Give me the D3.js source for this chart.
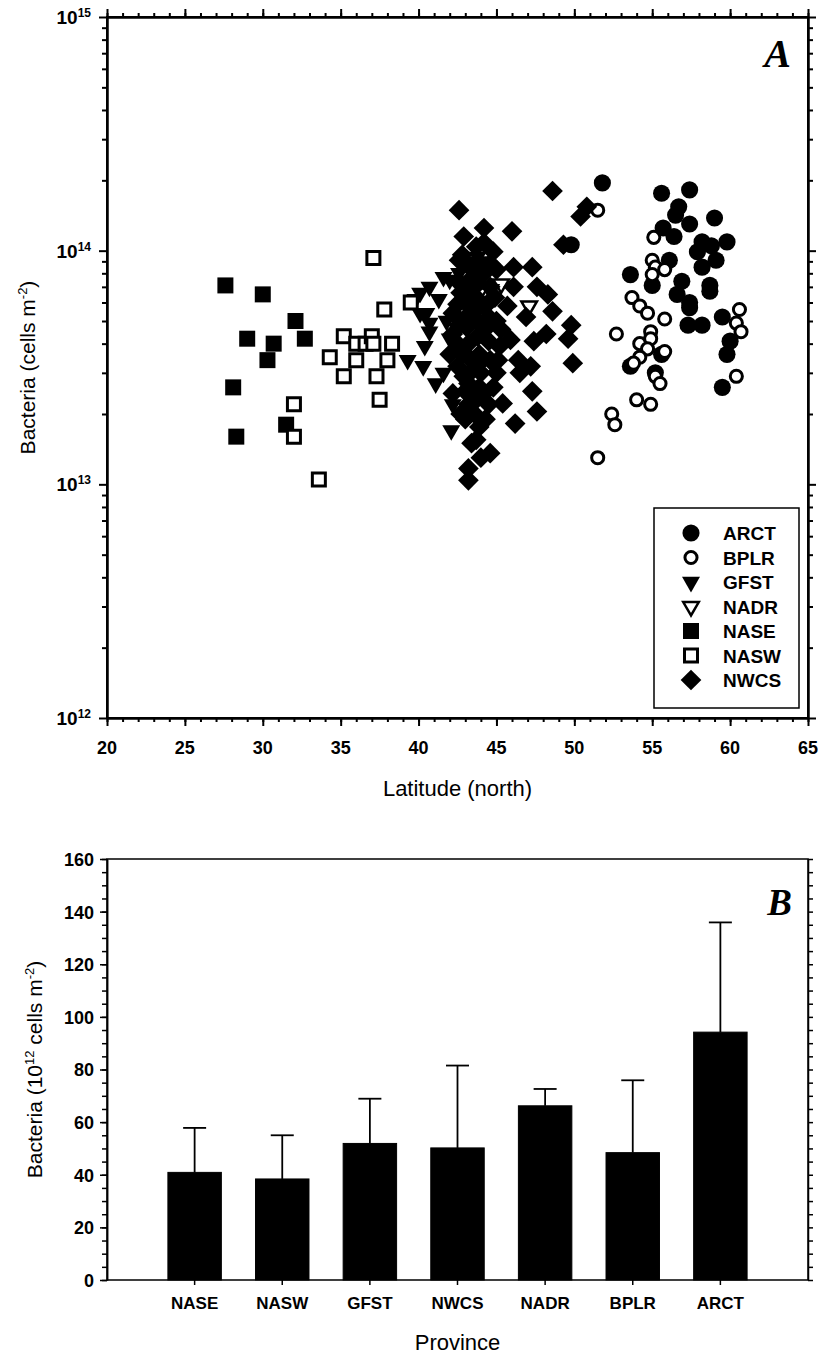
<!DOCTYPE html>
<html>
<head>
<meta charset="utf-8">
<script src="https://cdn.jsdelivr.net/npm/d3@7"></script>
<style>
  body { margin: 0; background: #fff; }
  text { font-family: 'Liberation Sans', Arial, sans-serif; fill: #000; }
</style>
</head>
<body>
<svg id="chart"></svg>
<script>
// panel A: latitude (north) vs bacteria (cells m-2), one list per province
const ARCT = [[51.8,19.5e13],[55.6,17.6e13],[57.4,18.2e13],[56.7,15.4e13],[56.5,14.2e13],[57.4,13.0e13],
  [59.0,13.8e13],[55.7,12.5e13],[56.4,11.5e13],[58.2,10.9e13],[58.8,10.5e13],[59.8,10.9e13],[57.9,9.9e13],
  [59.1,9.1e13],[58.2,8.5e13],[56.1,9.1e13],[53.6,7.9e13],[55.0,7.1e13],[56.9,7.4e13],[56.6,6.5e13],
  [57.4,6.0e13],[57.4,5.7e13],[58.7,7.1e13],[58.7,6.7e13],[57.3,4.8e13],[58.2,4.8e13],[59.5,5.2e13],
  [60.0,4.1e13],[59.8,3.6e13],[59.5,2.6e13],[49.8,10.6e13],[55.6,3.6e13],[53.6,3.2e13],[55.2,3.0e13]];
const BPLR = [[51.5,14.9e13],[55.1,11.4e13],[55.0,9.1e13],[55.2,8.5e13],[55.8,8.3e13],[55.0,7.9e13],
  [53.7,6.3e13],[54.2,5.8e13],[54.7,5.4e13],[55.8,5.1e13],[54.9,4.5e13],[52.7,4.4e13],[54.2,4.0e13],
  [54.9,4.2e13],[54.7,3.8e13],[55.8,3.7e13],[54.2,3.5e13],[53.8,3.3e13],[55.2,2.9e13],[55.5,2.7e13],
  [54.0,2.3e13],[54.9,2.2e13],[52.4,2.0e13],[52.6,1.8e13],[51.5,1.3e13],[60.6,5.6e13],[60.4,4.9e13],
  [60.7,4.5e13],[60.4,2.9e13]];
const GFST = [[39.3,3.4e13],[40.3,3.2e13],[41.1,2.7e13],[40.4,3.9e13],[40.7,4.5e13],[40.1,5.4e13],
  [39.8,6.2e13],[40.5,5.4e13],[40.7,4.9e13],[42.1,1.7e13],[41.6,7.7e13],[40.7,7.0e13],[40.1,6.6e13],
  [42.0,7.5e13],[42.6,8.0e13],[43.2,9.0e13],[43.8,9.4e13],[41.3,6.2e13],[41.8,5.0e13],[42.0,4.2e13],
  [41.6,3.0e13],[42.2,2.2e13],[44.3,5.6e13],[44.0,9.0e13]];
const NADR = [[47.1,5.8e13],[45.3,7.2e13],[44.6,6.8e13],[43.9,6.6e13]];
const NASE = [[27.6,7.1e13],[30.0,6.5e13],[32.1,5.0e13],[29.0,4.2e13],[30.7,4.0e13],[32.7,4.2e13],
  [30.3,3.4e13],[28.1,2.6e13],[31.5,1.8e13],[28.3,1.6e13]];
const NASW = [[37.1,9.3e13],[37.8,5.6e13],[39.5,6.0e13],[35.2,4.3e13],[36.0,4.0e13],[36.6,4.0e13],
  [37.0,4.3e13],[37.1,4.0e13],[38.3,4.0e13],[34.3,3.5e13],[36.0,3.4e13],[38.0,3.4e13],[35.2,2.9e13],
  [37.3,2.9e13],[37.5,2.3e13],[32.0,2.2e13],[32.0,1.6e13],[33.6,1.05e13]];
const NWCS = [[48.6,18.0e13],[42.6,14.9e13],[44.2,12.5e13],[46.0,12.1e13],[42.9,11.5e13],[50.4,14.0e13],
  [50.8,15.4e13],[49.3,10.6e13],[44.8,9.9e13],[42.6,9.1e13],[46.1,8.5e13],[47.3,8.5e13],[47.6,7.0e13],
  [48.3,6.5e13],[48.6,5.5e13],[49.8,4.8e13],[49.6,4.2e13],[49.9,3.3e13],[48.2,4.4e13],[47.4,4.1e13],
  [45.9,4.15e13],[46.4,3.4e13],[47.2,3.2e13],[47.3,2.5e13],[47.6,2.05e13],[46.2,1.82e13],[45.4,2.22e13],
  [44.6,1.36e13],[43.2,1.17e13],[43.2,1.04e13],[43.7,1.55e13],[43.9,1.76e13],[42.7,2.0e13],[42.2,2.45e13],
  [42.0,3.6e13],[42.2,4.4e13],[42.2,5.4e13],[42.7,6.6e13],[43.5,8.3e13],[44.6,7.0e13],[43.7,5.6e13],
  [44.4,4.7e13],[45.2,3.9e13],[43.9,3.6e13],[43.3,3.0e13],[44.2,2.45e13],[45.0,3.0e13],[45.7,5.8e13],
  [46.1,7.0e13],[45.0,8.3e13],[46.9,5.2e13],[43.1,4.7e13],[43.7,10.4e13],[46.5,3.0e13],[43.7,2.3e13],
  [42.9,2.9e13],[43.0,6.0e13],[43.5,6.5e13],[44.0,6.0e13],[43.2,4.0e13],[43.8,4.3e13],[44.5,5.2e13],
  [42.8,3.6e13],[43.4,3.4e13],[44.0,3.0e13],[44.6,3.4e13],[43.0,2.5e13],[43.6,2.0e13],[44.3,1.9e13],
  [42.9,5.0e13],[44.2,8.0e13],[43.3,7.5e13],[44.9,6.3e13],[45.3,4.6e13],[44.8,2.6e13],[43.4,1.5e13],
  [42.5,3.2e13],[42.5,4.0e13],[42.6,4.8e13],[42.5,5.9e13],[42.6,7.3e13],[43.2,2.2e13],[43.2,2.7e13],
  [43.3,5.4e13],[43.2,6.8e13],[43.2,8.6e13],[43.9,2.6e13],[43.9,3.3e13],[43.9,4.9e13],[43.8,7.2e13],
  [43.9,8.6e13],[44.5,2.2e13],[44.5,4.1e13],[44.4,5.9e13],[44.6,8.8e13],[45.1,3.4e13],[45.0,5.0e13],
  [42.8,9.6e13],[44.2,10.8e13],[43.0,1.9e13],[44.0,1.3e13]];

const provinces = ['ARCT', 'BPLR', 'GFST', 'NADR', 'NASE', 'NASW', 'NWCS'];
const scatterData = {ARCT, BPLR, GFST, NADR, NASE, NASW, NWCS};

// panel B: mean and standard deviation (10^12 cells m-2)
const barCategories = ['NASE', 'NASW', 'GFST', 'NWCS', 'NADR', 'BPLR', 'ARCT'];
const barMeans = [40.9, 38.4, 51.9, 50.2, 66.2, 48.4, 94.2];
const barSD = [16.9, 16.6, 17.0, 31.3, 6.4, 27.5, 41.7];

const W = 823, H = 1357;
const svg = d3.select('#chart').attr('width', W).attr('height', H);

const marker = {
  ARCT: {type: d3.symbolCircle, size: 230, fill: '#000', sw: 0, rot: 0},
  BPLR: {type: d3.symbolCircle, size: 115, fill: '#fff', sw: 3, rot: 0},
  GFST: {type: d3.symbolTriangle, size: 140, fill: '#000', sw: 0, rot: 180},
  NADR: {type: d3.symbolTriangle, size: 105, fill: '#fff', sw: 2.5, rot: 180},
  NASE: {type: d3.symbolSquare, size: 256, fill: '#000', sw: 0, rot: 0},
  NASW: {type: d3.symbolSquare, size: 169, fill: '#fff', sw: 3, rot: 0},
  NWCS: {type: d3.symbolSquare, size: 214, fill: '#000', sw: 0, rot: 45}
};

// ---------- panel A ----------
const xA = d3.scaleLinear().domain([20, 65]).range([107, 808]);
const yA = d3.scaleLog().domain([1e12, 1e15]).range([718, 17]);

const majorLat = d3.range(20, 66, 5);
const minorLat = d3.range(20, 66, 1);
const majorLog = [1e12, 1e13, 1e14, 1e15];
const minorLog = [];
[12, 13, 14].forEach(function(k) {
  for (let m = 2; m <= 9; m++) minorLog.push(m * Math.pow(10, k));
});

function styleAxis(g, w) {
  g.selectAll('path, line').attr('stroke', '#000').attr('stroke-width', w);
}

const gA = svg.append('g');

gA.append('rect')
  .attr('x', xA(20)).attr('y', yA(1e15))
  .attr('width', xA(65) - xA(20)).attr('height', yA(1e12) - yA(1e15))
  .attr('fill', 'none').attr('stroke', '#000').attr('stroke-width', 2);

[[d3.axisBottom, yA(1e12)], [d3.axisTop, yA(1e15)]].forEach(function(a) {
  gA.append('g').attr('transform', 'translate(0,' + a[1] + ')')
    .call(a[0](xA).tickValues(minorLat).tickSize(4).tickSizeOuter(0).tickFormat(''))
    .call(styleAxis, 2);
  gA.append('g').attr('transform', 'translate(0,' + a[1] + ')')
    .call(a[0](xA).tickValues(majorLat).tickSize(8).tickSizeOuter(0).tickFormat(''))
    .call(styleAxis, 2);
});
[[d3.axisLeft, xA(20)], [d3.axisRight, xA(65)]].forEach(function(a) {
  gA.append('g').attr('transform', 'translate(' + a[1] + ',0)')
    .call(a[0](yA).tickValues(minorLog).tickSize(5).tickSizeOuter(0).tickFormat(''))
    .call(styleAxis, 2);
  gA.append('g').attr('transform', 'translate(' + a[1] + ',0)')
    .call(a[0](yA).tickValues(majorLog).tickSize(8).tickSizeOuter(0).tickFormat(''))
    .call(styleAxis, 2);
});

gA.selectAll('.xlab').data(majorLat).join('text')
  .attr('class', 'xlab')
  .attr('x', function(d) { return xA(d); })
  .attr('y', yA(1e12) + 36)
  .attr('text-anchor', 'middle')
  .style('font-size', '18px').style('font-weight', 'bold')
  .text(function(d) { return d; });

const ylabA = gA.selectAll('.ylab').data(majorLog).join('text')
  .attr('class', 'ylab')
  .attr('x', xA(20) - 16)
  .attr('y', function(d) { return yA(d) + 7; })
  .attr('text-anchor', 'end')
  .style('font-size', '19px').style('font-weight', 'bold');
ylabA.append('tspan').text('10');
ylabA.append('tspan').attr('dy', -7).style('font-size', '12px')
  .text(function(d) { return Math.round(Math.log10(d)); });

const tA = gA.append('text')
  .attr('transform', 'translate(35,' + ((yA(1e12) + yA(1e15)) / 2) + ') rotate(-90)')
  .attr('text-anchor', 'middle')
  .style('font-size', '21px');
tA.append('tspan').text('Bacteria (cells m');
tA.append('tspan').attr('dy', -8).style('font-size', '13px').text('-2');
tA.append('tspan').attr('dy', 8).text(')');

gA.append('text')
  .attr('x', (xA(20) + xA(65)) / 2).attr('y', 796)
  .attr('text-anchor', 'middle')
  .style('font-size', '22px')
  .text('Latitude (north)');

gA.append('text')
  .attr('x', 791).attr('y', 67)
  .attr('text-anchor', 'end')
  .style('font-family', "'Liberation Serif', 'Times New Roman', serif")
  .style('font-style', 'italic').style('font-weight', 'bold')
  .style('font-size', '40px')
  .text('A');

function symbolPath(p) {
  return d3.symbol().type(marker[p].type).size(marker[p].size)();
}

provinces.forEach(function(p) {
  const m = marker[p];
  gA.append('g').selectAll('path').data(scatterData[p]).join('path')
    .attr('d', symbolPath(p))
    .attr('transform', function(d) {
      return 'translate(' + xA(d[0]) + ',' + yA(d[1]) + ') rotate(' + m.rot + ')';
    })
    .attr('fill', m.fill)
    .attr('stroke', m.sw ? '#000' : 'none')
    .attr('stroke-width', m.sw);
});

// legend
const legend = gA.append('g');
legend.append('rect')
  .attr('x', 654).attr('y', 508).attr('width', 145).attr('height', 200)
  .attr('fill', '#fff').attr('stroke', '#000').attr('stroke-width', 1.5);
const legY = d3.scalePoint().domain(provinces).range([533, 680]);
provinces.forEach(function(p) {
  const m = marker[p];
  legend.append('path')
    .attr('d', symbolPath(p))
    .attr('transform', 'translate(691,' + legY(p) + ') rotate(' + m.rot + ')')
    .attr('fill', m.fill)
    .attr('stroke', m.sw ? '#000' : 'none')
    .attr('stroke-width', m.sw);
  legend.append('text')
    .attr('x', 723).attr('y', legY(p) + 7)
    .style('font-size', '19px').style('font-weight', 'bold')
    .text(p);
});

// ---------- panel B ----------
const xB = d3.scaleBand().domain(barCategories).range([107, 808])
  .paddingInner(0.39).paddingOuter(0.695);
const yB = d3.scaleLinear().domain([0, 160]).range([1280, 859]);

const gB = svg.append('g');

gB.append('rect')
  .attr('x', 107).attr('y', yB(160))
  .attr('width', 808 - 107).attr('height', yB(0) - yB(160))
  .attr('fill', 'none').attr('stroke', '#000').attr('stroke-width', 1.5);

const minorB = d3.range(0, 161, 5);
const majorB = d3.range(0, 161, 20);
gB.append('g').attr('transform', 'translate(107,0)')
  .call(d3.axisLeft(yB).tickValues(minorB).tickSize(5).tickSizeOuter(0).tickFormat(''))
  .call(styleAxis, 1.5);
gB.append('g').attr('transform', 'translate(107,0)')
  .call(d3.axisLeft(yB).tickValues(majorB).tickSize(7).tickSizeOuter(0))
  .call(styleAxis, 1.5)
  .call(function(g) {
    g.selectAll('text').attr('x', -13).attr('dy', '0.36em')
      .style('font-size', '18px').style('font-weight', 'bold')
      .style('font-family', "'Liberation Sans', Arial, sans-serif");
  });
gB.append('g').attr('transform', 'translate(808,0)')
  .call(d3.axisRight(yB).tickValues(minorB).tickSize(5).tickSizeOuter(0).tickFormat(''))
  .call(styleAxis, 1.5);
gB.append('g').attr('transform', 'translate(0,' + yB(0) + ')')
  .call(d3.axisBottom(xB).tickSize(5).tickSizeOuter(0))
  .call(styleAxis, 1.5)
  .call(function(g) {
    g.select('.domain').remove();
    g.selectAll('text').attr('y', 17).attr('dy', '0.71em')
      .style('font-size', '17px').style('font-weight', 'bold')
      .style('font-family', "'Liberation Sans', Arial, sans-serif");
  });

const bars = barCategories.map(function(c, i) {
  return {cat: c, mean: barMeans[i], sd: barSD[i]};
});

gB.selectAll('.bar').data(bars).join('rect')
  .attr('class', 'bar')
  .attr('x', function(d) { return xB(d.cat); })
  .attr('y', function(d) { return yB(d.mean); })
  .attr('width', xB.bandwidth())
  .attr('height', function(d) { return yB(0) - yB(d.mean); })
  .attr('fill', '#000').attr('stroke', '#000').attr('stroke-width', 1);

const capW = 11.5;
const err = gB.selectAll('.err').data(bars).join('g').attr('class', 'err')
  .attr('stroke', '#000').attr('stroke-width', 1.8);
err.append('line')
  .attr('x1', function(d) { return xB(d.cat) + xB.bandwidth() / 2; })
  .attr('x2', function(d) { return xB(d.cat) + xB.bandwidth() / 2; })
  .attr('y1', function(d) { return yB(d.mean); })
  .attr('y2', function(d) { return yB(d.mean + d.sd); });
err.append('line')
  .attr('x1', function(d) { return xB(d.cat) + xB.bandwidth() / 2 - capW; })
  .attr('x2', function(d) { return xB(d.cat) + xB.bandwidth() / 2 + capW; })
  .attr('y1', function(d) { return yB(d.mean + d.sd); })
  .attr('y2', function(d) { return yB(d.mean + d.sd); });

const tB = gB.append('text')
  .attr('transform', 'translate(42,' + ((yB(0) + yB(160)) / 2) + ') rotate(-90)')
  .attr('text-anchor', 'middle')
  .style('font-size', '21px');
tB.append('tspan').text('Bacteria (10');
tB.append('tspan').attr('dy', -8).style('font-size', '13px').text('12');
tB.append('tspan').attr('dy', 8).text(' cells m');
tB.append('tspan').attr('dy', -8).style('font-size', '13px').text('-2');
tB.append('tspan').attr('dy', 8).text(')');

gB.append('text')
  .attr('x', (107 + 808) / 2).attr('y', 1350)
  .attr('text-anchor', 'middle')
  .style('font-size', '22px')
  .text('Province');

gB.append('text')
  .attr('x', 792).attr('y', 915)
  .attr('text-anchor', 'end')
  .style('font-family', "'Liberation Serif', 'Times New Roman', serif")
  .style('font-style', 'italic').style('font-weight', 'bold')
  .style('font-size', '37px')
  .text('B');
</script>
</body>
</html>
